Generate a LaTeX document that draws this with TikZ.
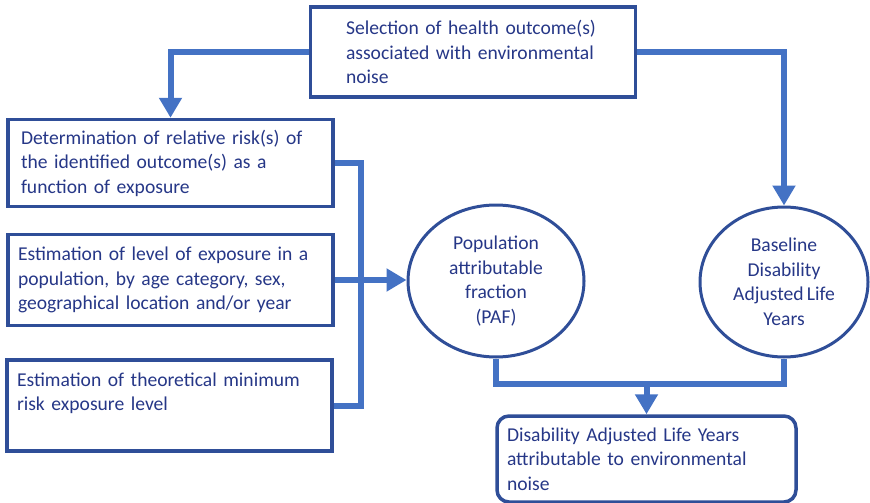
\documentclass[tikz,border=0pt]{standalone}
\usepackage{fontspec}
\setmainfont{Carlito}[WordSpace=0.7]
\usetikzlibrary{arrows.meta,shapes.geometric}
\definecolor{boxc}{RGB}{47,78,152}
\definecolor{linkc}{RGB}{68,114,196}
\definecolor{txtc}{RGB}{38,55,135}
\tikzset{
  stepbox/.style={draw=boxc, line width=3.5pt, text=txtc, align=left,
    inner xsep=10pt, inner ysep=0pt, anchor=center},
  roundbox/.style={stepbox, rounded corners=12pt},
  oval/.style={ellipse, draw=boxc, line width=3pt, text=txtc, align=center,
    inner sep=0pt},
  link/.style={draw=linkc, line width=6pt},
  linkarrow/.style={link, -{Triangle[width=22pt,length=20pt]}},
}
\begin{document}
\begin{tikzpicture}[x=1pt,y=-1pt,font=\fontsize{19.6}{24.5}\selectfont]
\path[use as bounding box] (0,0) rectangle (870,503);

% boxes
\node[stepbox, text width=254pt, inner xsep=35.5pt, minimum height=90pt] (sel) at (473,52)
  {Selection of health outcome(s)\\associated with environmental\\noise};
\node[stepbox, text width=299pt, inner xsep=13pt, minimum height=87pt] (rr) at (170.5,163)
  {Determination of relative risk(s) of\\the identified outcome(s) as a\\function of exposure};
\node[stepbox, text width=305pt, minimum height=91pt] (exp) at (170.5,280)
  {Estimation of level of exposure in a\\population, by age category, sex,\\geographical location and/or year};
\node[stepbox, text width=305pt, minimum height=91pt] (tmr) at (169.5,405.5)
  {\parbox[c][66pt][t]{305pt}{Estimation of theoretical minimum\\risk exposure level}};

% ovals
\node[oval, minimum width=176pt, minimum height=152pt] (paf) at (496,281)
  {Population\\attributable\\fraction\\(PAF)};
\node[oval, minimum width=168pt, minimum height=150pt] (base) at (784,282)
  {Baseline\\Disability\\Adjusted Life\\Years};

% result box
\node[roundbox, text width=279pt, minimum height=86pt] (daly) at (646.5,459)
  {Disability Adjusted Life Years\\attributable to environmental\\noise};

% connectors
\draw[linkarrow] (sel.west) -| (rr.north);
\draw[linkarrow] (sel.east) -| (base.north);
\draw[link] (rr.east) -- ++(26,0) coordinate (bus) |- (tmr.east);
\draw[linkarrow] (exp.east) -- (exp.east -| paf.west);
\draw[link] (paf.south) -- ++(0,25) coordinate (join) -| (base.south);
\draw[linkarrow] (daly.north |- join) -- (daly.north);
\end{tikzpicture}
\end{document}
